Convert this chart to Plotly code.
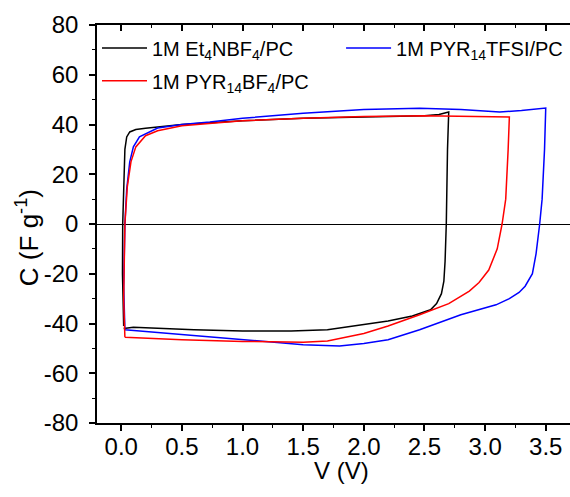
import plotly.graph_objects as go

# Black: 1M Et4NBF4/PC
v_et = [0.02, 0.01, 0.012, 0.02, 0.03, 0.045, 0.07, 0.12, 0.2, 0.5, 1.0, 1.5, 2.0, 2.5, 2.62, 2.7,
        2.69, 2.685, 2.68, 2.67, 2.66, 2.64, 2.6, 2.55, 2.4,
        2.2, 2.0, 1.7, 1.4, 1.0, 0.6, 0.3, 0.1, 0.02]
c_et = [-41, -20, 0, 20, 30, 35, 37, 38, 38.5, 40, 41.5, 42.5, 43, 43.5, 44, 45,
        30, 10, 0, -15, -23, -28, -32, -34.5, -37,
        -39, -40.5, -42.5, -43, -43, -42.5, -42, -41.5, -42]

# Blue: 1M PYR14TFSI/PC
v_tfsi = [0.03, 0.02, 0.03, 0.045, 0.07, 0.1, 0.15, 0.3, 0.5, 0.73, 1.0, 1.5, 2.0, 2.46, 2.8, 3.12, 3.3, 3.5,
          3.49, 3.47, 3.45, 3.42, 3.39, 3.33, 3.28, 3.2, 3.09, 2.8, 2.46, 2.2, 2.0, 1.8, 1.5, 1.0, 0.5, 0.1, 0.03]
c_tfsi = [-42.5, -25, 0, 14, 25, 31, 35, 38.6, 40, 41, 42.5, 44.5, 46, 46.5, 46, 45, 45.6, 46.6,
          30, 10, 0, -12, -20, -25, -27.5, -30, -32.5, -36.5, -42.5, -46.5, -48, -49, -48.5, -46.5, -44.5, -43, -42.5]

# Red: 1M PYR14BF4/PC
v_bf4 = [0.03, 0.02, 0.03, 0.05, 0.08, 0.12, 0.2, 0.3, 0.5, 1.0, 1.5, 2.0, 2.5, 3.0, 3.2,
         3.19, 3.17, 3.14, 3.1, 3.03, 2.95, 2.87, 2.7, 2.46, 2.2, 2.0, 1.7, 1.5, 1.2, 1.0, 0.5, 0.1, 0.03]
c_bf4 = [-45.5, -30, 0, 15, 25, 31, 35.5, 37.5, 39.5, 41.5, 42.5, 43.2, 43.5, 43, 43,
         30, 10, 0, -10, -18.5, -23.5, -27, -32, -36.5, -41, -44, -47, -47.5, -47.5, -47.2, -46.5, -45.8, -45.5]

x_ticks = [0.0, 0.5, 1.0, 1.5, 2.0, 2.5, 3.0, 3.5]
y_ticks = [-80, -60, -40, -20, 0, 20, 40, 60, 80]
y_ticktext = ["-80", "-60", "-40", "-20", "0", "20", "40", "60", "80"]

FONT = "Liberation Sans, Arial, sans-serif"

fig = go.Figure()
fig.add_trace(go.Scatter(x=v_et, y=c_et, mode="lines", line=dict(color="black", width=1.5),
                         name="1M Et<sub>4</sub>NBF<sub>4</sub>/PC", legend="legend"))
fig.add_trace(go.Scatter(x=v_tfsi, y=c_tfsi, mode="lines", line=dict(color="#0000ff", width=1.5),
                         name="1M PYR<sub>14</sub>TFSI/PC", legend="legend2"))
fig.add_trace(go.Scatter(x=v_bf4, y=c_bf4, mode="lines", line=dict(color="#ff0000", width=1.5),
                         name="1M PYR<sub>14</sub>BF<sub>4</sub>/PC", legend="legend3"))
# invisible trace to drive the top axis
fig.add_trace(go.Scatter(x=[x_ticks[0]], y=[0], xaxis="x2", mode="markers",
                         marker=dict(opacity=0), showlegend=False, hoverinfo="skip"))

axis_common = dict(showgrid=False, linecolor="black", linewidth=1.5, tickcolor="black",
                   automargin=False, tickfont=dict(family=FONT, size=24, color="black"))

leg_common = dict(font=dict(family=FONT, size=20, color="black"), bgcolor="rgba(0,0,0,0)",
                  itemwidth=45, xanchor="left", yanchor="middle", orientation="v")

fig.update_layout(
    width=570, height=497,
    margin=dict(l=97, r=0, t=25, b=74, autoexpand=False),
    plot_bgcolor="white", paper_bgcolor="white",
    font=dict(family=FONT, color="black"),
    xaxis=dict(range=[-0.2, 3.7], tickvals=x_ticks, ticktext=[f"{v:.1f}" for v in x_ticks],
               ticks="outside", ticklen=6, tickwidth=1.5, zeroline=False, showline=True,
               ticklabelstandoff=-5,
               minor=dict(dtick=0.25, tick0=0, ticks="outside", ticklen=3, tickcolor="black", tickwidth=1.2),
               **axis_common),
    xaxis2=dict(overlaying="x", side="top", matches="x", range=[-0.2, 3.7], tickvals=x_ticks,
                showticklabels=False, ticks="inside", ticklen=6, tickwidth=1.5, showline=True,
                linecolor="black", linewidth=1.5, tickcolor="black", showgrid=False, zeroline=False,
                minor=dict(dtick=0.25, tick0=0, ticks="inside", ticklen=3, tickcolor="black", tickwidth=1.2)),
    yaxis=dict(range=[-80, 80], tickvals=y_ticks, ticktext=y_ticktext, ticks="outside", ticklen=6, tickwidth=1.5,
               zeroline=True, zerolinecolor="black", zerolinewidth=1.3, showline=True,
               ticklabelstandoff=6,
               minor=dict(dtick=10, tick0=0, ticks="outside", ticklen=3, tickcolor="black", tickwidth=1.2),
               **axis_common),
    legend=dict(x=0.0, y=0.942, **leg_common),
    legend2=dict(x=0.516, y=0.942, **leg_common),
    legend3=dict(x=0.0, y=0.860, **leg_common),
    showlegend=True,
    annotations=[
        dict(text="V (V)", xref="paper", yref="paper", x=0.516, y=-0.1206,
             xanchor="center", yanchor="middle", showarrow=False,
             font=dict(family=FONT, size=24, color="black")),
        dict(text="C (F g<sup>-1</sup>)", xref="paper", yref="paper", x=-0.148, y=0.467,
             xanchor="center", yanchor="middle", showarrow=False, textangle=-90,
             font=dict(family=FONT, size=26, color="black")),
    ],
)

fig.write_html("out.html", config={"displayModeBar": False},
               post_script="document.body.style.margin='0';document.body.style.padding='0';")
